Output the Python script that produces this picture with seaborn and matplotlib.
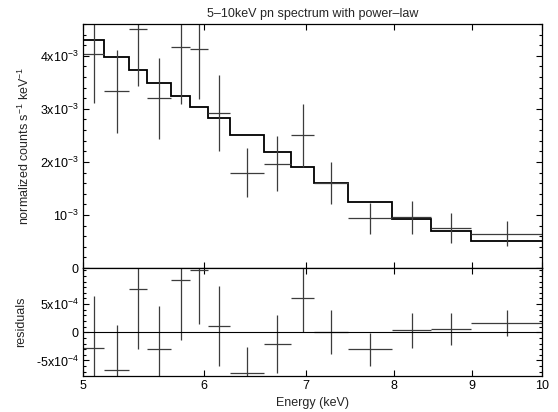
import numpy as np
import seaborn as sns
import matplotlib.pyplot as plt
from matplotlib.ticker import MultipleLocator, NullLocator

# energy bins (keV)
bin_edges = [5.0, 5.163, 5.359, 5.512, 5.715, 5.875, 6.042, 6.243, 6.570,
             6.848, 7.092, 7.467, 7.977, 8.462, 8.991, 10.0]
# normalized counts s^-1 keV^-1
counts = [4.03e-3, 3.33e-3, 4.50e-3, 3.20e-3, 4.16e-3, 4.13e-3, 2.92e-3, 1.80e-3,
          1.97e-3, 2.50e-3, 1.60e-3, 0.94e-3, 0.96e-3, 0.76e-3, 0.65e-3]
count_err = [0.91e-3, 0.785e-3, 1.06e-3, 0.765e-3, 1.06e-3, 0.95e-3, 0.71e-3, 0.455e-3,
             0.52e-3, 0.60e-3, 0.39e-3, 0.29e-3, 0.31e-3, 0.285e-3, 0.23e-3]
# power-law model
model = [4.29e-3, 3.98e-3, 3.74e-3, 3.49e-3, 3.25e-3, 3.04e-3, 2.82e-3, 2.50e-3,
         2.18e-3, 1.90e-3, 1.60e-3, 1.24e-3, 0.93e-3, 0.70e-3, 0.50e-3]
# residuals (data - model)
resid = [-2.7e-4, -6.6e-4, 7.6e-4, -3.0e-4, 9.3e-4, 11.0e-4, 1.1e-4, -7.2e-4,
         -2.1e-4, 6.1e-4, 0.0, -3.0e-4, 0.35e-4, 0.65e-4, 1.65e-4]

x_ticks = [5, 6, 7, 8, 9, 10]
x_labels = ['5', '6', '7', '8', '9', '10']
top_ticks = [0, 1e-3, 2e-3, 3e-3, 4e-3]
top_labels = ['0', '10$^{-3}$', '2x10$^{-3}$', '3x10$^{-3}$', '4x10$^{-3}$']
res_ticks = [-5e-4, 0, 5e-4]
res_labels = ['-5x10$^{-4}$', '0', '5x10$^{-4}$']

sns.set_theme(style="ticks")
plt.rcParams['font.family'] = ['Liberation Sans', 'DejaVu Sans']
plt.rcParams['mathtext.fontset'] = 'custom'
plt.rcParams['mathtext.rm'] = 'Liberation Sans'
plt.rcParams['mathtext.default'] = 'regular'

edges = np.array(bin_edges)
centers = np.sqrt(edges[:-1] * edges[1:])
xerr = [centers - edges[:-1], edges[1:] - centers]

fig = plt.figure(figsize=(5.58, 4.12), dpi=100)
ax = fig.add_axes([0.1487, 0.3495, 0.8221, 0.5922])
axr = fig.add_axes([0.1487, 0.0881, 0.8221, 0.2614], sharex=ax)

data_col = '#3c3c3c'
ax.errorbar(centers, counts, yerr=count_err, xerr=xerr, fmt='none',
            ecolor=data_col, elinewidth=0.9, capsize=0)
ax.stairs(model, edges, baseline=None, color='black', linewidth=1.3)

axr.errorbar(centers, resid, yerr=count_err, xerr=xerr, fmt='none',
             ecolor=data_col, elinewidth=0.9, capsize=0)
axr.axhline(0, color='black', linewidth=0.8)

for a in (ax, axr):
    a.set_xscale('log')
    a.set_xlim(5, 10)
    a.set_xticks(x_ticks)
    a.xaxis.set_minor_locator(NullLocator())
    a.tick_params(which='both', direction='in', top=True, right=True,
                  labelsize=9, colors='black', pad=3)
    a.tick_params(which='major', length=4, width=0.8)
    a.tick_params(which='minor', length=2.5, width=0.8)
    for s in a.spines.values():
        s.set_linewidth(0.9)
        s.set_color('black')

ax.set_ylim(0, 4.6e-3)
ax.set_yticks(top_ticks)
ax.set_yticklabels(top_labels)
ax.yaxis.set_minor_locator(MultipleLocator(2e-4))
ax.tick_params(axis='x', labelbottom=False)
ax.set_ylabel('normalized counts s$^{-1}$ keV$^{-1}$', fontsize=9, labelpad=6)
ax.set_title('5–10keV pn spectrum with power–law', fontsize=9, pad=5)

axr.set_ylim(-7.7e-4, 11.4e-4)
axr.set_yticks(res_ticks)
axr.set_yticklabels(res_labels)
axr.yaxis.set_minor_locator(MultipleLocator(1e-4))
axr.set_xticklabels(x_labels)
axr.set_ylabel('residuals', fontsize=9, labelpad=6)
axr.set_xlabel('Energy (keV)', fontsize=9, labelpad=4)

fig.savefig('out.png', dpi=100)
